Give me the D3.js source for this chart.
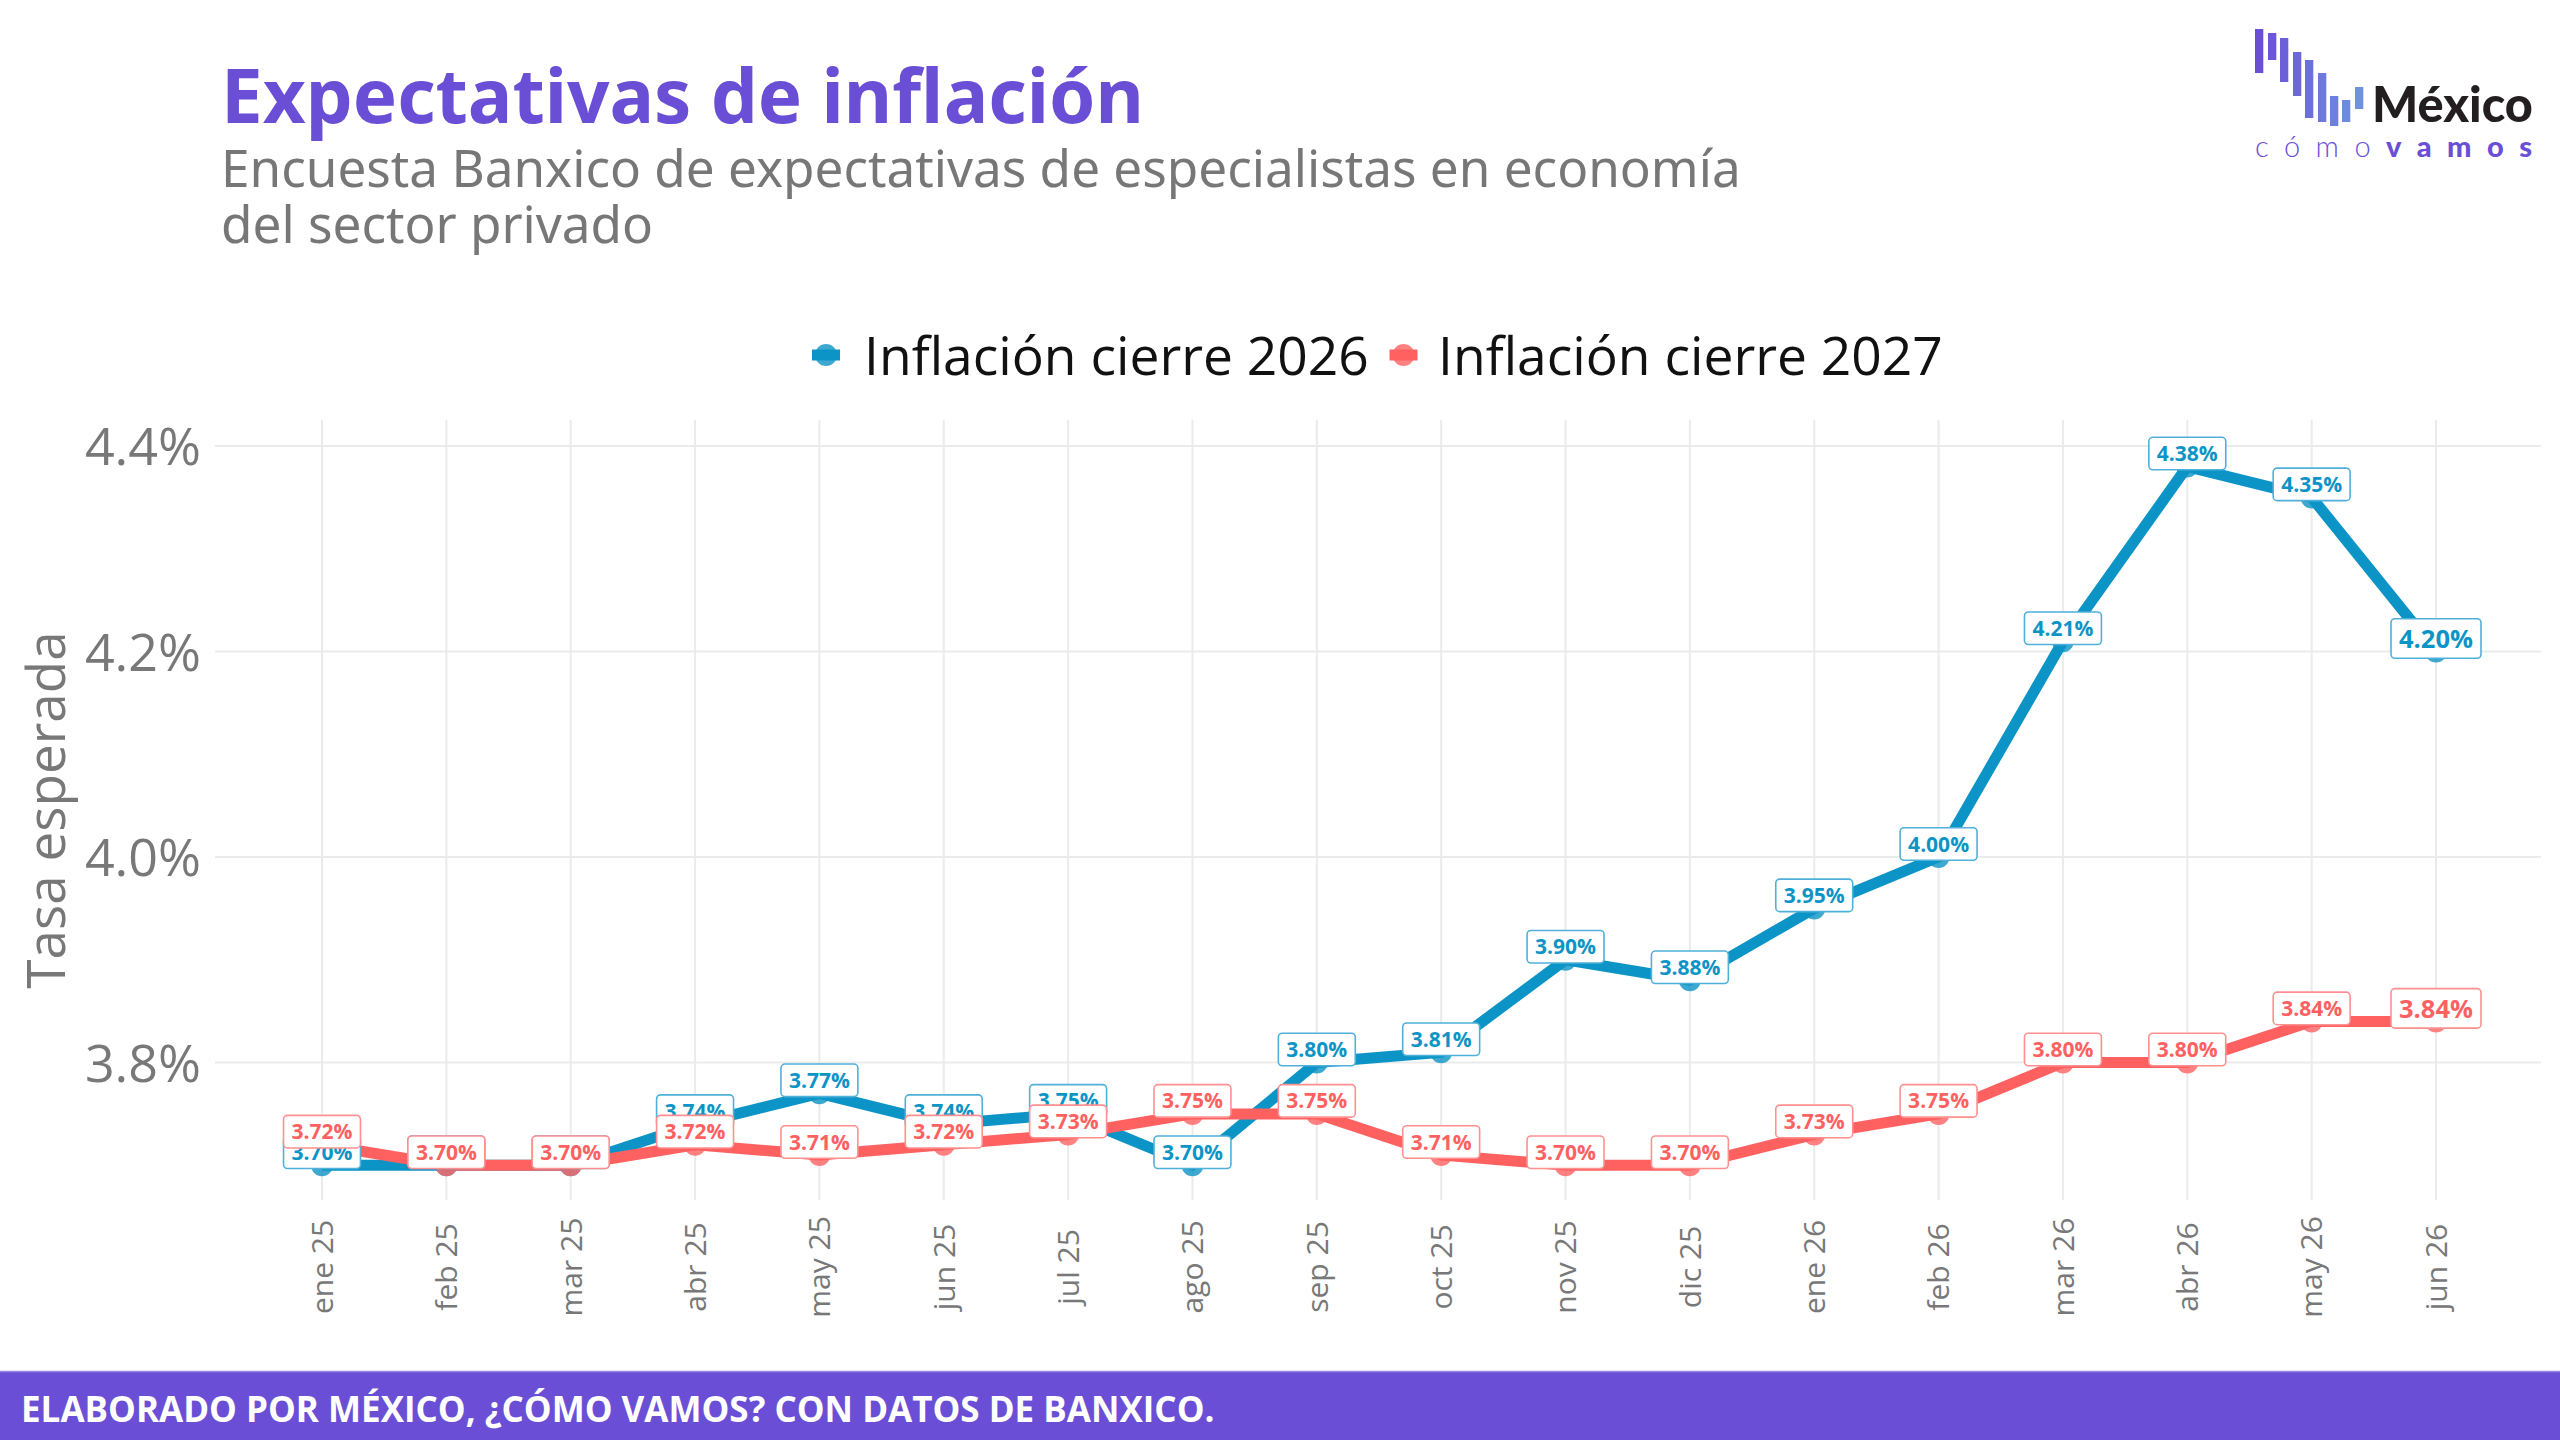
<!DOCTYPE html>
<html>
<head>
<meta charset="utf-8">
<script src="https://cdn.jsdelivr.net/npm/d3@7"></script>
<style>
  body { margin: 0; background: #fff; }
  svg { display: block; }
</style>
</head>
<body>
<div id="chart"></div>
<script>
// Data
const months = ['ene 25', 'feb 25', 'mar 25', 'abr 25', 'may 25', 'jun 25', 'jul 25', 'ago 25', 'sep 25',
  'oct 25', 'nov 25', 'dic 25', 'ene 26', 'feb 26', 'mar 26', 'abr 26', 'may 26', 'jun 26']
const inflacion2026 = [3.70, 3.70, 3.70, 3.74, 3.77, 3.74, 3.75, 3.70, 3.80,
  3.81, 3.90, 3.88, 3.95, 4.00, 4.21, 4.38, 4.35, 4.20]
const inflacion2027 = [3.72, 3.70, 3.70, 3.72, 3.71, 3.72, 3.73, 3.75, 3.75,
  3.71, 3.70, 3.70, 3.73, 3.75, 3.80, 3.80, 3.84, 3.84]
const seriesNames = ['Inflación cierre 2026', 'Inflación cierre 2027']
const yTicks = [3.8, 4.0, 4.2, 4.4]

const colors = ['#0d94c6', '#ff6161']
const borderColors = ['#4fb0da', '#ff9090']

// ajusta il font-size perché il testo occupi la larghezza voluta
function fitText(sel, target) {
  const w = sel.node().getComputedTextLength()
  const fs = parseFloat(sel.attr('font-size'))
  const nfs = fs * target / w
  sel.attr('font-size', nfs)
  return nfs
}

function draw() {
  const dimensions = {
    width: 2560,
    height: 1440,
    panel: { left: 215, right: 2541, top: 420, bottom: 1200 }
  }

  const svg = d3.select('#chart')
    .append('svg')
    .attr('width', dimensions.width)
    .attr('height', dimensions.height)
    .style('font-family', '"Open Sans", "Noto Sans", sans-serif')

  svg.append('rect').attr('width', dimensions.width).attr('height', dimensions.height).attr('fill', '#fff')

  // Scales
  const xScale = d3.scalePoint().domain(months).range([322, 2436])
  const yScale = d3.scaleLinear().domain([3.8, 4.4]).range([1062.5, 446])

  const series = [inflacion2026, inflacion2027].map((vals, i) => ({
    name: seriesNames[i],
    color: colors[i],
    border: borderColors[i],
    values: vals.map((v, j) => ({ month: months[j], value: v, last: j === vals.length - 1 }))
  }))

  // Gridlines
  const grid = svg.append('g')
  grid.selectAll('line.h')
    .data(yTicks)
    .join('line')
    .attr('x1', dimensions.panel.left).attr('x2', dimensions.panel.right)
    .attr('y1', d => yScale(d)).attr('y2', d => yScale(d))
    .attr('stroke', '#ebebeb').attr('stroke-width', 2)
  grid.selectAll('line.v')
    .data(months)
    .join('line')
    .attr('x1', d => xScale(d)).attr('x2', d => xScale(d))
    .attr('y1', dimensions.panel.top).attr('y2', dimensions.panel.bottom)
    .attr('stroke', '#ebebeb').attr('stroke-width', 2)

  // Axes text
  const yAxis = d3.axisLeft(yScale).tickValues(yTicks).tickFormat(d => d.toFixed(1) + '%').tickSize(0).tickPadding(0)
  const yAxisGroup = svg.append('g')
    .attr('transform', 'translate(201,0)')
    .call(yAxis)
  yAxisGroup.select('.domain').remove()
  yAxisGroup.selectAll('text')
    .attr('font-size', 52)
    .attr('font-family', '"Open Sans", sans-serif')
    .attr('fill', '#787878')
    .attr('dy', '0.36em')

  const xAxisGroup = svg.append('g')
  xAxisGroup.selectAll('text')
    .data(months)
    .join('text')
    .attr('transform', d => `translate(${xScale(d)},1267) rotate(-90)`)
    .attr('text-anchor', 'middle')
    .attr('dy', '0.36em')
    .attr('font-size', 30)
    .attr('fill', '#787878')
    .text(d => d)

  svg.append('text')
    .attr('transform', 'translate(46,810) rotate(-90)')
    .attr('text-anchor', 'middle')
    .attr('dy', '0.36em')
    .attr('font-size', 53)
    .attr('fill', '#787878')
    .text('Tasa esperada')

  // Lines
  const line = d3.line().x(d => xScale(d.month)).y(d => yScale(d.value))
  svg.append('g').selectAll('path')
    .data(series)
    .join('path')
    .attr('d', d => line(d.values))
    .attr('fill', 'none')
    .attr('stroke', d => d.color)
    .attr('stroke-width', 11)
    .attr('stroke-linejoin', 'round')

  // Points
  svg.append('g').selectAll('g')
    .data(series)
    .join('g')
    .attr('fill', d => d.color)
    .attr('fill-opacity', 0.8)
    .selectAll('circle')
    .data(d => d.values)
    .join('circle')
    .attr('cx', d => xScale(d.month))
    .attr('cy', d => yScale(d.value))
    .attr('r', 11)

  // Labels
  const labelSeries = svg.append('g').selectAll('g')
    .data(series)
    .join('g')
  const labels = labelSeries.selectAll('g')
    .data(s => s.values.map(v => ({ ...v, color: s.color, border: s.border })))
    .join('g')
    .attr('transform', d => `translate(${xScale(d.month)},${yScale(d.value) - 13})`)
  labels.append('rect')
  labels.append('text')
    .attr('text-anchor', 'middle')
    .attr('dy', '0.36em')
    .attr('font-size', d => d.last ? 25.5 : 21)
    .attr('font-weight', 700)
    .attr('fill', d => d.color)
    .text(d => d.value.toFixed(2) + '%')
  labels.each(function (d) {
    const g = d3.select(this)
    const fs = d.last ? 25.5 : 21
    const w = g.select('text').node().getComputedTextLength() + 16
    const h = fs * 1.55
    g.select('rect')
      .attr('x', -w / 2).attr('y', -h / 2)
      .attr('width', w).attr('height', h)
      .attr('rx', 4)
      .attr('fill', '#fff')
      .attr('stroke', d.border)
      .attr('stroke-width', 1.6)
  })

  // Legend
  const legendPos = [{ kx: 826, tx: 864, w: 505 }, { kx: 1403.5, tx: 1438, w: 505 }]
  const legend = svg.append('g').selectAll('g')
    .data(series)
    .join('g')
  legend.append('line')
    .attr('x1', (d, i) => legendPos[i].kx - 14).attr('x2', (d, i) => legendPos[i].kx + 14)
    .attr('y1', 355).attr('y2', 355)
    .attr('stroke', d => d.color).attr('stroke-width', 11)
  legend.append('circle')
    .attr('cx', (d, i) => legendPos[i].kx).attr('cy', 355).attr('r', 11)
    .attr('fill', d => d.color).attr('fill-opacity', 0.8)
  legend.append('text')
    .attr('x', (d, i) => legendPos[i].tx)
    .attr('y', 375)
    .attr('font-size', 52)
    .attr('fill', '#111')
    .text(d => d.name)
    .each(function (d, i) { fitText(d3.select(this), legendPos[i].w) })

  // Title
  const title = svg.append('text')
    .attr('x', 221).attr('y', 123)
    .attr('font-size', 75)
    .attr('font-weight', 700)
    .attr('font-family', '"Noto Sans", sans-serif')
    .attr('fill', '#6a4fd6')
    .text('Expectativas de inflación')
  fitText(title, 923)

  const sub1 = svg.append('text')
    .attr('x', 221).attr('y', 187)
    .attr('font-size', 45)
    .attr('font-family', '"Noto Sans", sans-serif')
    .attr('fill', '#777')
    .text('Encuesta Banxico de expectativas de especialistas en economía')
  const subFs = fitText(sub1, 1520)
  svg.append('text')
    .attr('x', 221).attr('y', 243)
    .attr('font-size', subFs)
    .attr('font-family', '"Noto Sans", sans-serif')
    .attr('fill', '#777')
    .text('del sector privado')

  // Footer
  svg.append('rect')
    .attr('x', 0).attr('y', 1371).attr('width', dimensions.width).attr('height', 69)
    .attr('fill', '#6a4fd6')
  svg.append('line')
    .attr('x1', 0).attr('x2', dimensions.width).attr('y1', 1371.5).attr('y2', 1371.5)
    .attr('stroke', '#9a88e4').attr('stroke-width', 1.5)
  const foot = svg.append('text')
    .attr('x', 21).attr('y', 1422)
    .attr('font-size', 39)
    .attr('font-weight', 700)
    .attr('fill', '#fff')
    .text('ELABORADO POR MÉXICO, ¿CÓMO VAMOS? CON DATOS DE BANXICO.')
  fitText(foot, 1194)

  // Logo
  const logo = svg.append('g')
  const bars = [[2255, 29, 73], [2268, 33, 60], [2280, 38, 82], [2293, 52, 96], [2305, 60, 118],
    [2318, 73, 122], [2330, 96, 126], [2342, 100, 122], [2355, 87, 109]]
  const barColor = d3.scaleLinear().domain([0, 8]).range(['#6a4fd6', '#6e92de'])
  logo.selectAll('rect')
    .data(bars)
    .join('rect')
    .attr('x', d => d[0]).attr('y', d => d[1])
    .attr('width', 8.3).attr('height', d => d[2] - d[1])
    .attr('fill', (d, i) => barColor(i))
  const mex = logo.append('text')
    .attr('x', 2372).attr('y', 122)
    .attr('font-size', 46).attr('font-weight', 900)
    .attr('font-family', '"Lato", "Open Sans", sans-serif')
    .attr('fill', '#231f20')
    .text('México')
  fitText(mex, 161)
  const cv = logo.append('text')
    .attr('x', 2255).attr('y', 157)
    .attr('font-size', 29)
    .attr('font-family', '"Lato", "Open Sans", sans-serif')
    .attr('letter-spacing', 15.5)
    .attr('fill', '#6a4fd6')
  cv.append('tspan').attr('font-weight', 300).text('cómo')
  cv.append('tspan').attr('font-weight', 900).text('vamos')
}
draw()
</script>
</body>
</html>
